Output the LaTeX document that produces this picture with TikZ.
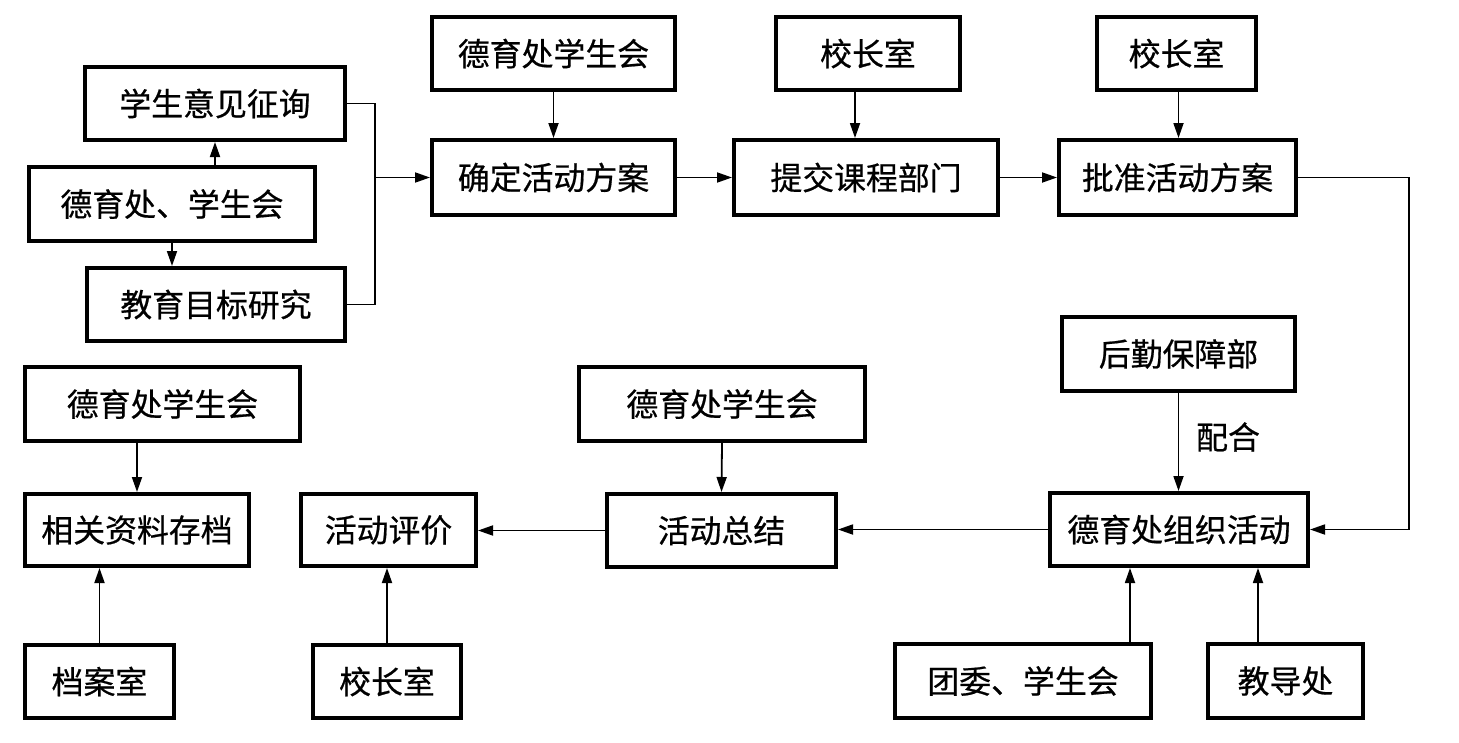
\documentclass[tikz,border=0pt]{standalone}
\usepackage{fontspec}
\newfontfamily\cjk[FakeBold=0.6]{Noto Sans CJK SC}
\usetikzlibrary{arrows.meta,calc}
\tikzset{
  box/.style={draw, line width=4bp, inner sep=0pt, font=\cjk\fontsize{32}{36}\selectfont},
  arr/.style={line width=1.8bp, -{Triangle[length=15bp,width=10bp]}},
  ln/.style={line width=1.8bp},
  lbl/.style={inner sep=0pt, font=\cjk\fontsize{32}{36}\selectfont}
}
\begin{document}
\begin{tikzpicture}[x=1bp,y=-1bp]
\useasboundingbox (0,0) rectangle (1459,742);
% boxes
\node[box, minimum width=260bp, minimum height=73bp] (q)  at (215,103.5) {学生意见征询};
\node[box, minimum width=286bp, minimum height=74bp] (d)  at (172,204) {德育处、学生会};
\node[box, minimum width=258bp, minimum height=73bp] (j)  at (216,304.5) {教育目标研究};
\node[box, minimum width=243bp, minimum height=73bp] (t1) at (553.5,53.5) {德育处学生会};
\node[box, minimum width=243bp, minimum height=75bp] (qd) at (553.5,177.5) {确定活动方案};
\node[box, minimum width=184bp, minimum height=73bp] (x1) at (868,53.5) {校长室};
\node[box, minimum width=264bp, minimum height=75bp] (tj) at (866,177.5) {提交课程部门};
\node[box, minimum width=159bp, minimum height=73bp] (x2) at (1176.5,53.5) {校长室};
\node[box, minimum width=237bp, minimum height=75bp] (pz) at (1177.5,177.5) {批准活动方案};
\node[box, minimum width=233bp, minimum height=74bp] (hq) at (1178.5,354) {后勤保障部};
\node[box, minimum width=258bp, minimum height=73bp] (zz) at (1179,529.5) {德育处组织活动};
\node[box, minimum width=256bp, minimum height=74bp] (tw) at (1023,681) {团委、学生会};
\node[box, minimum width=155bp, minimum height=74bp] (jd) at (1285.5,681) {教导处};
\node[box, minimum width=286bp, minimum height=74bp] (t2) at (722,404) {德育处学生会};
\node[box, minimum width=229bp, minimum height=73bp] (zj) at (721.5,530.5) {活动总结};
\node[box, minimum width=175bp, minimum height=72bp] (pj) at (388.5,530) {活动评价};
\node[box, minimum width=148bp, minimum height=73bp] (x3) at (387,681.5) {校长室};
\node[box, minimum width=275bp, minimum height=74bp] (t3) at (162.5,404) {德育处学生会};
\node[box, minimum width=224bp, minimum height=72bp] (zl) at (137,530) {相关资料存档};
\node[box, minimum width=149bp, minimum height=73bp] (da) at (99.5,681.5) {档案室};
\node[lbl] (ph) at (1228,437) {配合};
% helper coordinates
\coordinate (m) at (375,177.5);
\coordinate (r) at (1409,180);
% connectors
\draw[arr] (d.north -| q.south) -- (q.south);
\draw[arr] (d.south) -- (j.north -| d.south);
\draw[ln] (q.east) -| (m) |- (j.east);
\draw[arr] (m) -- (qd.west);
\draw[arr] (t1.south) -- (qd.north);
\draw[arr] (qd.east) -- (tj.west);
\draw[arr] ([xshift=-13bp]x1.south) -- ([xshift=-13bp]x1.south |- tj.north);
\draw[arr] (tj.east) -- (pz.west);
\draw[arr] ([xshift=2bp]x2.south) -- ([xshift=2bp]x2.south |- pz.north);
\draw[arr] (pz.east) -| (r) |- (zz.east);
\draw[arr] (hq.south) -- (zz.north -| hq.south);
\draw[arr] ([xshift=-49bp]zz.south |- tw.north) -- ([xshift=-49bp]zz.south);
\draw[arr] ([xshift=79bp]zz.south |- jd.north) -- ([xshift=79bp]zz.south);
\draw[arr] (zz.west) -- (zz.west -| zj.east);
\draw[arr] (t2.south) -- (zj.north);
\draw[arr] (zj.west) -- (zj.west -| pj.east);
\draw[arr] (x3.north) -- (x3.north |- pj.south);
\draw[arr] (zl.north |- t3.south) -- (zl.north);
\draw[arr] (da.north) -- (da.north |- zl.south);
\end{tikzpicture}
\end{document}
